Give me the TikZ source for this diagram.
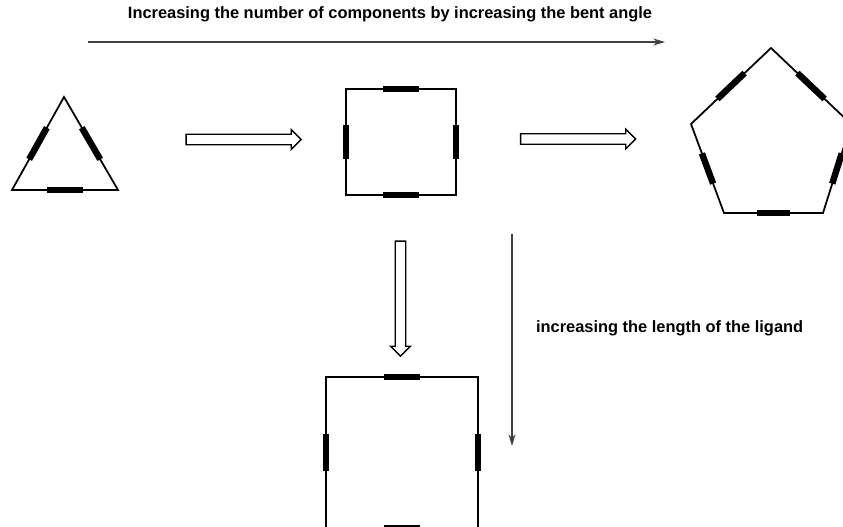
\documentclass[tikz,border=0pt]{standalone}
\usepackage{fontspec}
\setmainfont{Liberation Sans}
\usetikzlibrary{arrows.meta, calc, shapes.arrows}

\begin{document}
\begin{tikzpicture}[x=0.03cm, y=-0.03cm, >={Stealth[length=10pt, width=6pt]},
    font=\fontsize{14}{16}\selectfont\bfseries,
    edge/.style={line width=1.5pt, line join=miter},
    bar/.style={line width=5.5pt},
    hollow/.style={single arrow, draw, line width=1.1pt, inner xsep=0pt, inner ysep=3.9pt,
        single arrow head extend=4pt, minimum height=3.45cm},
    guide/.style={->, line width=1pt, draw=black!75}]
    \useasboundingbox (0,0) rectangle (843,526);
    \clip (0,0) rectangle (843,526);

    % triangle
    \coordinate (t1) at (64,97);
    \coordinate (t2) at (118,190);
    \coordinate (t3) at (12,190);
    \draw[edge] (t1) -- (t2) -- (t3) -- cycle;
    \foreach \a/\b in {t1/t2, t2/t3, t3/t1}
        \draw[bar] ($(\a)!.33!(\b)$) -- ($(\a)!.67!(\b)$);

    % square
    \coordinate (s1) at (346,89);
    \coordinate (s2) at (456,89);
    \coordinate (s3) at (456,195);
    \coordinate (s4) at (346,195);
    \draw[edge] (s1) -- (s2) -- (s3) -- (s4) -- cycle;
    \foreach \a/\b in {s1/s2, s2/s3, s3/s4, s4/s1}
        \draw[bar] ($(\a)!.34!(\b)$) -- ($(\a)!.66!(\b)$);

    % pentagon
    \coordinate (p1) at (771,48);
    \coordinate (p2) at (851,124);
    \coordinate (p3) at (823,213);
    \coordinate (p4) at (724,213);
    \coordinate (p5) at (691,124);
    \draw[edge] (p1) -- (p2) -- (p3) -- (p4) -- (p5) -- cycle;
    \foreach \a/\b in {p1/p2, p2/p3, p3/p4, p4/p5, p5/p1}
        \draw[bar] ($(\a)!.33!(\b)$) -- ($(\a)!.67!(\b)$);

    % longer square
    \coordinate (q1) at (326,377);
    \coordinate (q2) at (478,377);
    \coordinate (q3) at (478,528);
    \coordinate (q4) at (326,528);
    \draw[edge] (q1) -- (q2) -- (q3) -- (q4) -- cycle;
    \foreach \a/\b in {q1/q2, q2/q3, q3/q4, q4/q1}
        \draw[bar] ($(\a)!.38!(\b)$) -- ($(\a)!.62!(\b)$);

    % hollow arrows
    \node[hollow] (ha) at (241,139.5) {};
    \node[hollow] (hb) at (575.5,139) {};
    \node[hollow, rotate=-90] (hc) at (400.5,296) {};

    % thin arrows and texts
    \coordinate (h0) at (88,42);
    \coordinate (h1) at (665,42);
    \draw[guide] (h0) -- (h1);
    \node (angle) at (390,14) {Increasing the number of components by increasing the bent angle};

    \coordinate (v0) at (512,234);
    \coordinate (v1) at (512,446);
    \draw[guide] (v0) -- (v1);
    \node[anchor=west] (ligand) at (532,328) {increasing the length of the ligand};
\end{tikzpicture}
\end{document}
